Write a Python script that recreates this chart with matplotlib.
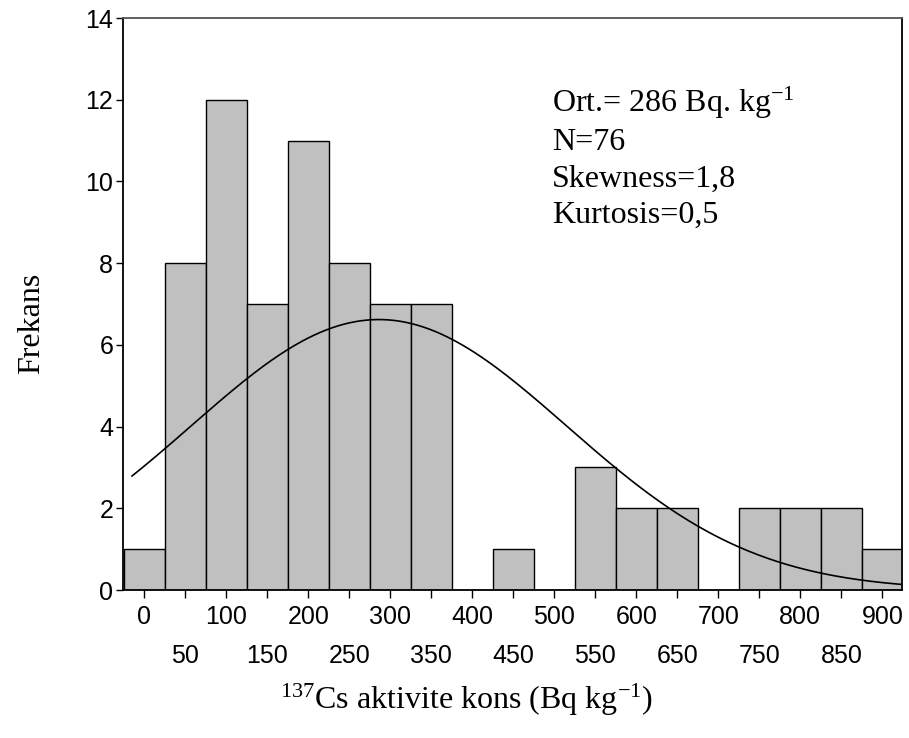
"""Histogram of 137Cs activity concentration with a fitted normal curve."""
import matplotlib

matplotlib.use("Agg")
import matplotlib.pyplot as plt
import numpy as np

# bin centres (Bq/kg) and counts, width 50
bin_centers = [0, 50, 100, 150, 200, 250, 300, 350, 400, 450,
               500, 550, 600, 650, 700, 750, 800, 850, 900]
counts = [1, 8, 12, 7, 11, 8, 7, 7, 0, 1, 0, 3, 2, 2, 0, 2, 2, 2, 1]
BIN_W = 50

# summary statistics
mean_val = 286.0
sd_val = 229.0
n_obs = 76
stats_lines = [r"Ort.= 286 Bq. kg$^{\mathrm{-1}}$", "N=76", "Skewness=1,8", "Kurtosis=0,5"]

major_ticks = [0, 100, 200, 300, 400, 500, 600, 700, 800, 900]
minor_ticks = [50, 150, 250, 350, 450, 550, 650, 750, 850]
y_ticks = [0, 2, 4, 6, 8, 10, 12, 14]

SANS = ["Liberation Sans", "DejaVu Sans"]
SERIF = ["Liberation Serif", "DejaVu Serif"]

plt.rcParams["mathtext.fontset"] = "custom"
plt.rcParams["mathtext.rm"] = "Liberation Serif"
plt.rcParams["mathtext.it"] = "Liberation Serif:italic"
plt.rcParams["mathtext.default"] = "regular"

fig = plt.figure(figsize=(9.09, 7.38), dpi=100)
ax = fig.add_axes([0.1353, 0.2005, 0.857, 0.7751])

ax.bar(bin_centers, counts, width=BIN_W, color="#c0c0c0",
       edgecolor="black", linewidth=1.0, zorder=2)

# normal curve scaled to counts per bin
xs = np.linspace(-15, 925, 400)
ys = n_obs * BIN_W / (sd_val * np.sqrt(2 * np.pi)) * np.exp(-0.5 * ((xs - mean_val) / sd_val) ** 2)
ax.plot(xs, ys, color="black", lw=1.2, zorder=3)

ax.set_xlim(-26, 924)
ax.set_ylim(0, 14)

ax.set_yticks(y_ticks)
ax.set_yticklabels([str(v) for v in y_ticks], family=SANS, fontsize=18)
ax.tick_params(axis="y", length=5, width=1, pad=2)

ax.set_xticks(major_ticks)
ax.set_xticklabels([str(v) for v in major_ticks], family=SANS, fontsize=18)
ax.set_xticks(minor_ticks, minor=True)
ax.set_xticklabels([str(v) for v in minor_ticks], minor=True, family=SANS, fontsize=18)
ax.tick_params(axis="x", which="major", length=6, width=1, pad=5)
ax.tick_params(axis="x", which="minor", length=6, width=1, pad=33)

for side in ("left", "bottom", "right"):
    ax.spines[side].set_color("black")
    ax.spines[side].set_linewidth(1.3)
ax.spines["top"].set_color("#555555")
ax.spines["top"].set_linewidth(1.3)

ax.text(0.551, 0.883, "\n".join(stats_lines), transform=ax.transAxes,
        family=SERIF, fontsize=23, va="top", ha="left", linespacing=1.33)

fig.text(32 / 909, 1 - 323 / 738, "Frekans", family=SERIF, fontsize=23,
         rotation=90, ha="center", va="center")
fig.text(466 / 909, 1 - 700 / 738, r"$^{\mathrm{137}}$Cs aktivite kons (Bq kg$^{\mathrm{-1}}$)",
         family=SERIF, fontsize=23, ha="center", va="center")

fig.savefig("out.png", dpi=100)
